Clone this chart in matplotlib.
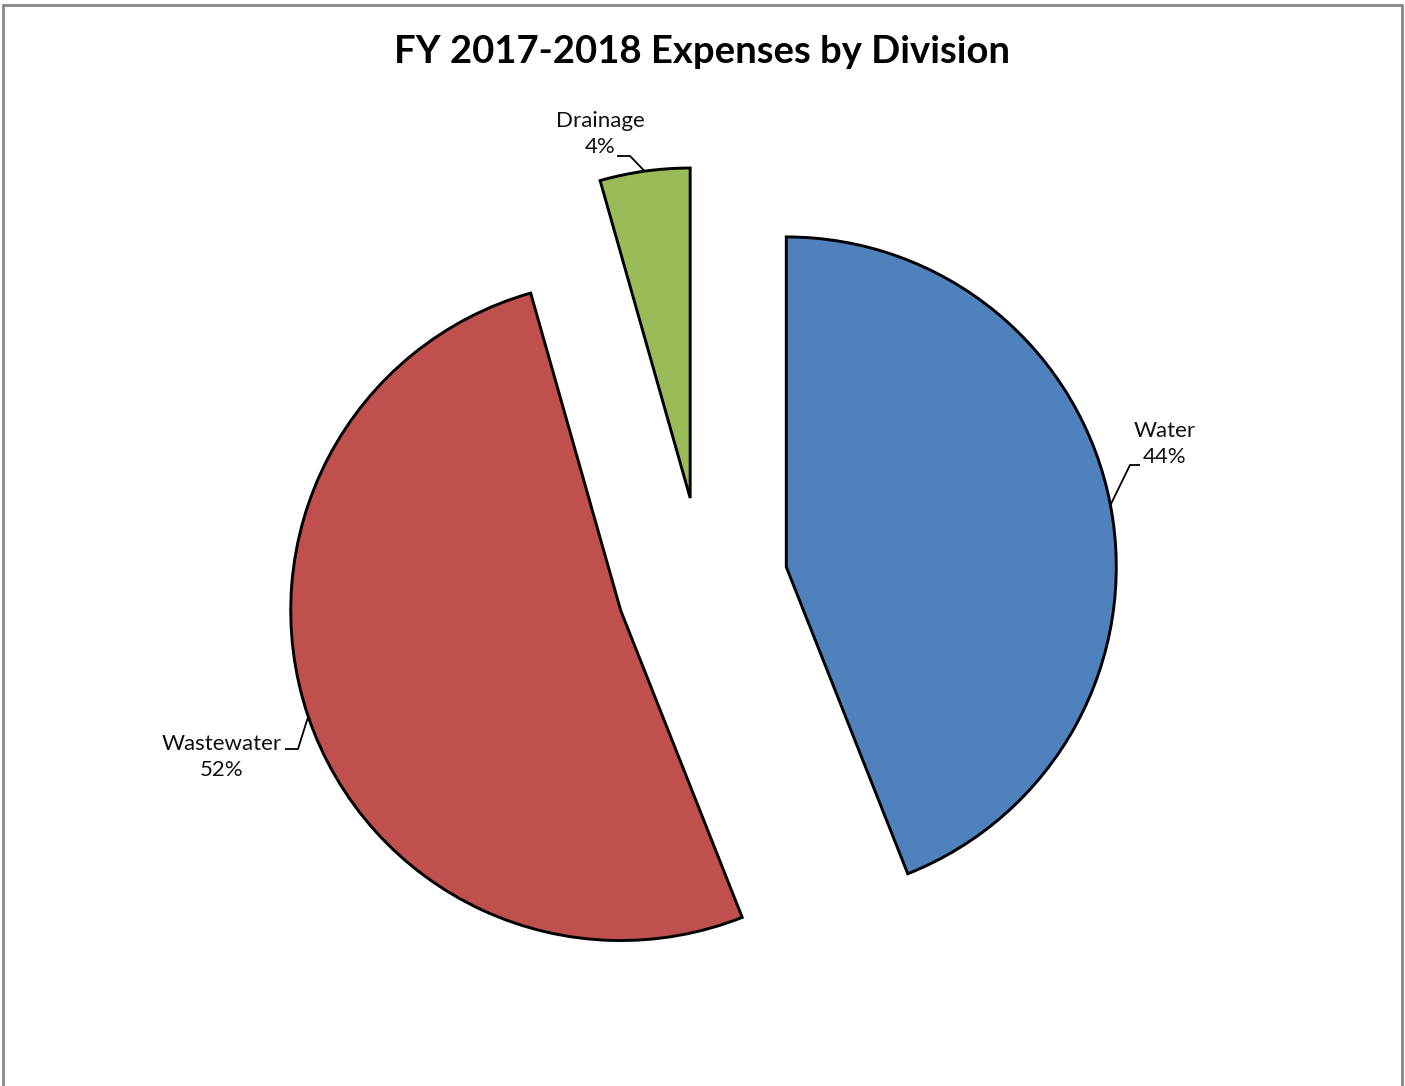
import numpy as np
import matplotlib.pyplot as plt
from matplotlib.patches import Rectangle

# Expense shares by division (percent of total)
divisions = ["Water", "Wastewater", "Drainage"]
shares = [44.0, 51.6, 4.4]
colors = ["#4F81BD", "#C0504D", "#9BBB59"]

W, H = 1405, 1086
fig = plt.figure(figsize=(W / 100, H / 100), dpi=100)
fig.patch.set_facecolor("white")

# Pie centre and radius in pixels; axes units are pie radii
cx, cy, R = 702, 583, 330
ax = fig.add_axes([0, 0, 1, 1])

wedges, _ = ax.pie(
    shares,
    colors=colors,
    startangle=90,
    counterclock=False,
    radius=1.0,
    explode=[0.26] * len(shares),
    wedgeprops=dict(edgecolor="black", linewidth=2.1),
)
ax.set_xlim(-cx / R, (W - cx) / R)
ax.set_ylim(-(H - cy) / R, cy / R)
ax.set_aspect("equal")
ax.axis("off")


def px(x, y):
    """Pixel position (origin top-left) to axes data units."""
    return (x - cx) / R, (cy - y) / R


# Label text anchor, elbow and text-side end of each leader line, in pixels
label_pos = {"Water": (1165, 444), "Wastewater": (222, 757), "Drainage": (600, 134)}
leader_pts = {
    "Water": [(1140, 465), (1130, 465)],
    "Wastewater": [(285, 749), (298, 749)],
    "Drainage": [(617, 156), (630, 156)],
}

font = ["Lato", "DejaVu Sans"]
for w, name, val in zip(wedges, divisions, shares):
    tm = np.deg2rad((w.theta1 + w.theta2) / 2)
    ex = w.center[0] + w.r * np.cos(tm)
    ey = w.center[1] + w.r * np.sin(tm)
    lx, ly = px(*label_pos[name])
    ax.text(lx, ly, f"{name}\n{val:.0f}%", ha="center", va="center",
            fontsize=16, family=font, linespacing=1.38, color="#111111")
    p0 = px(*leader_pts[name][0])
    p1 = px(*leader_pts[name][1])
    ax.plot([p0[0], p1[0], ex], [p0[1], p1[1], ey], color="black", lw=1.3,
            solid_capstyle="butt", zorder=5)

fig.text(0.5, 1 - 52 / H, "FY 2017-2018 Expenses by Division", ha="center",
         va="center", fontsize=27.5, fontweight="bold", family=font)

# Chart frame
fig.patches.append(Rectangle((3 / W, -0.01), (1402 - 3) / W, 1.01 - 5 / H,
                             transform=fig.transFigure, fill=False,
                             edgecolor="#888888", linewidth=2))

fig.savefig("out.png", dpi=100)
